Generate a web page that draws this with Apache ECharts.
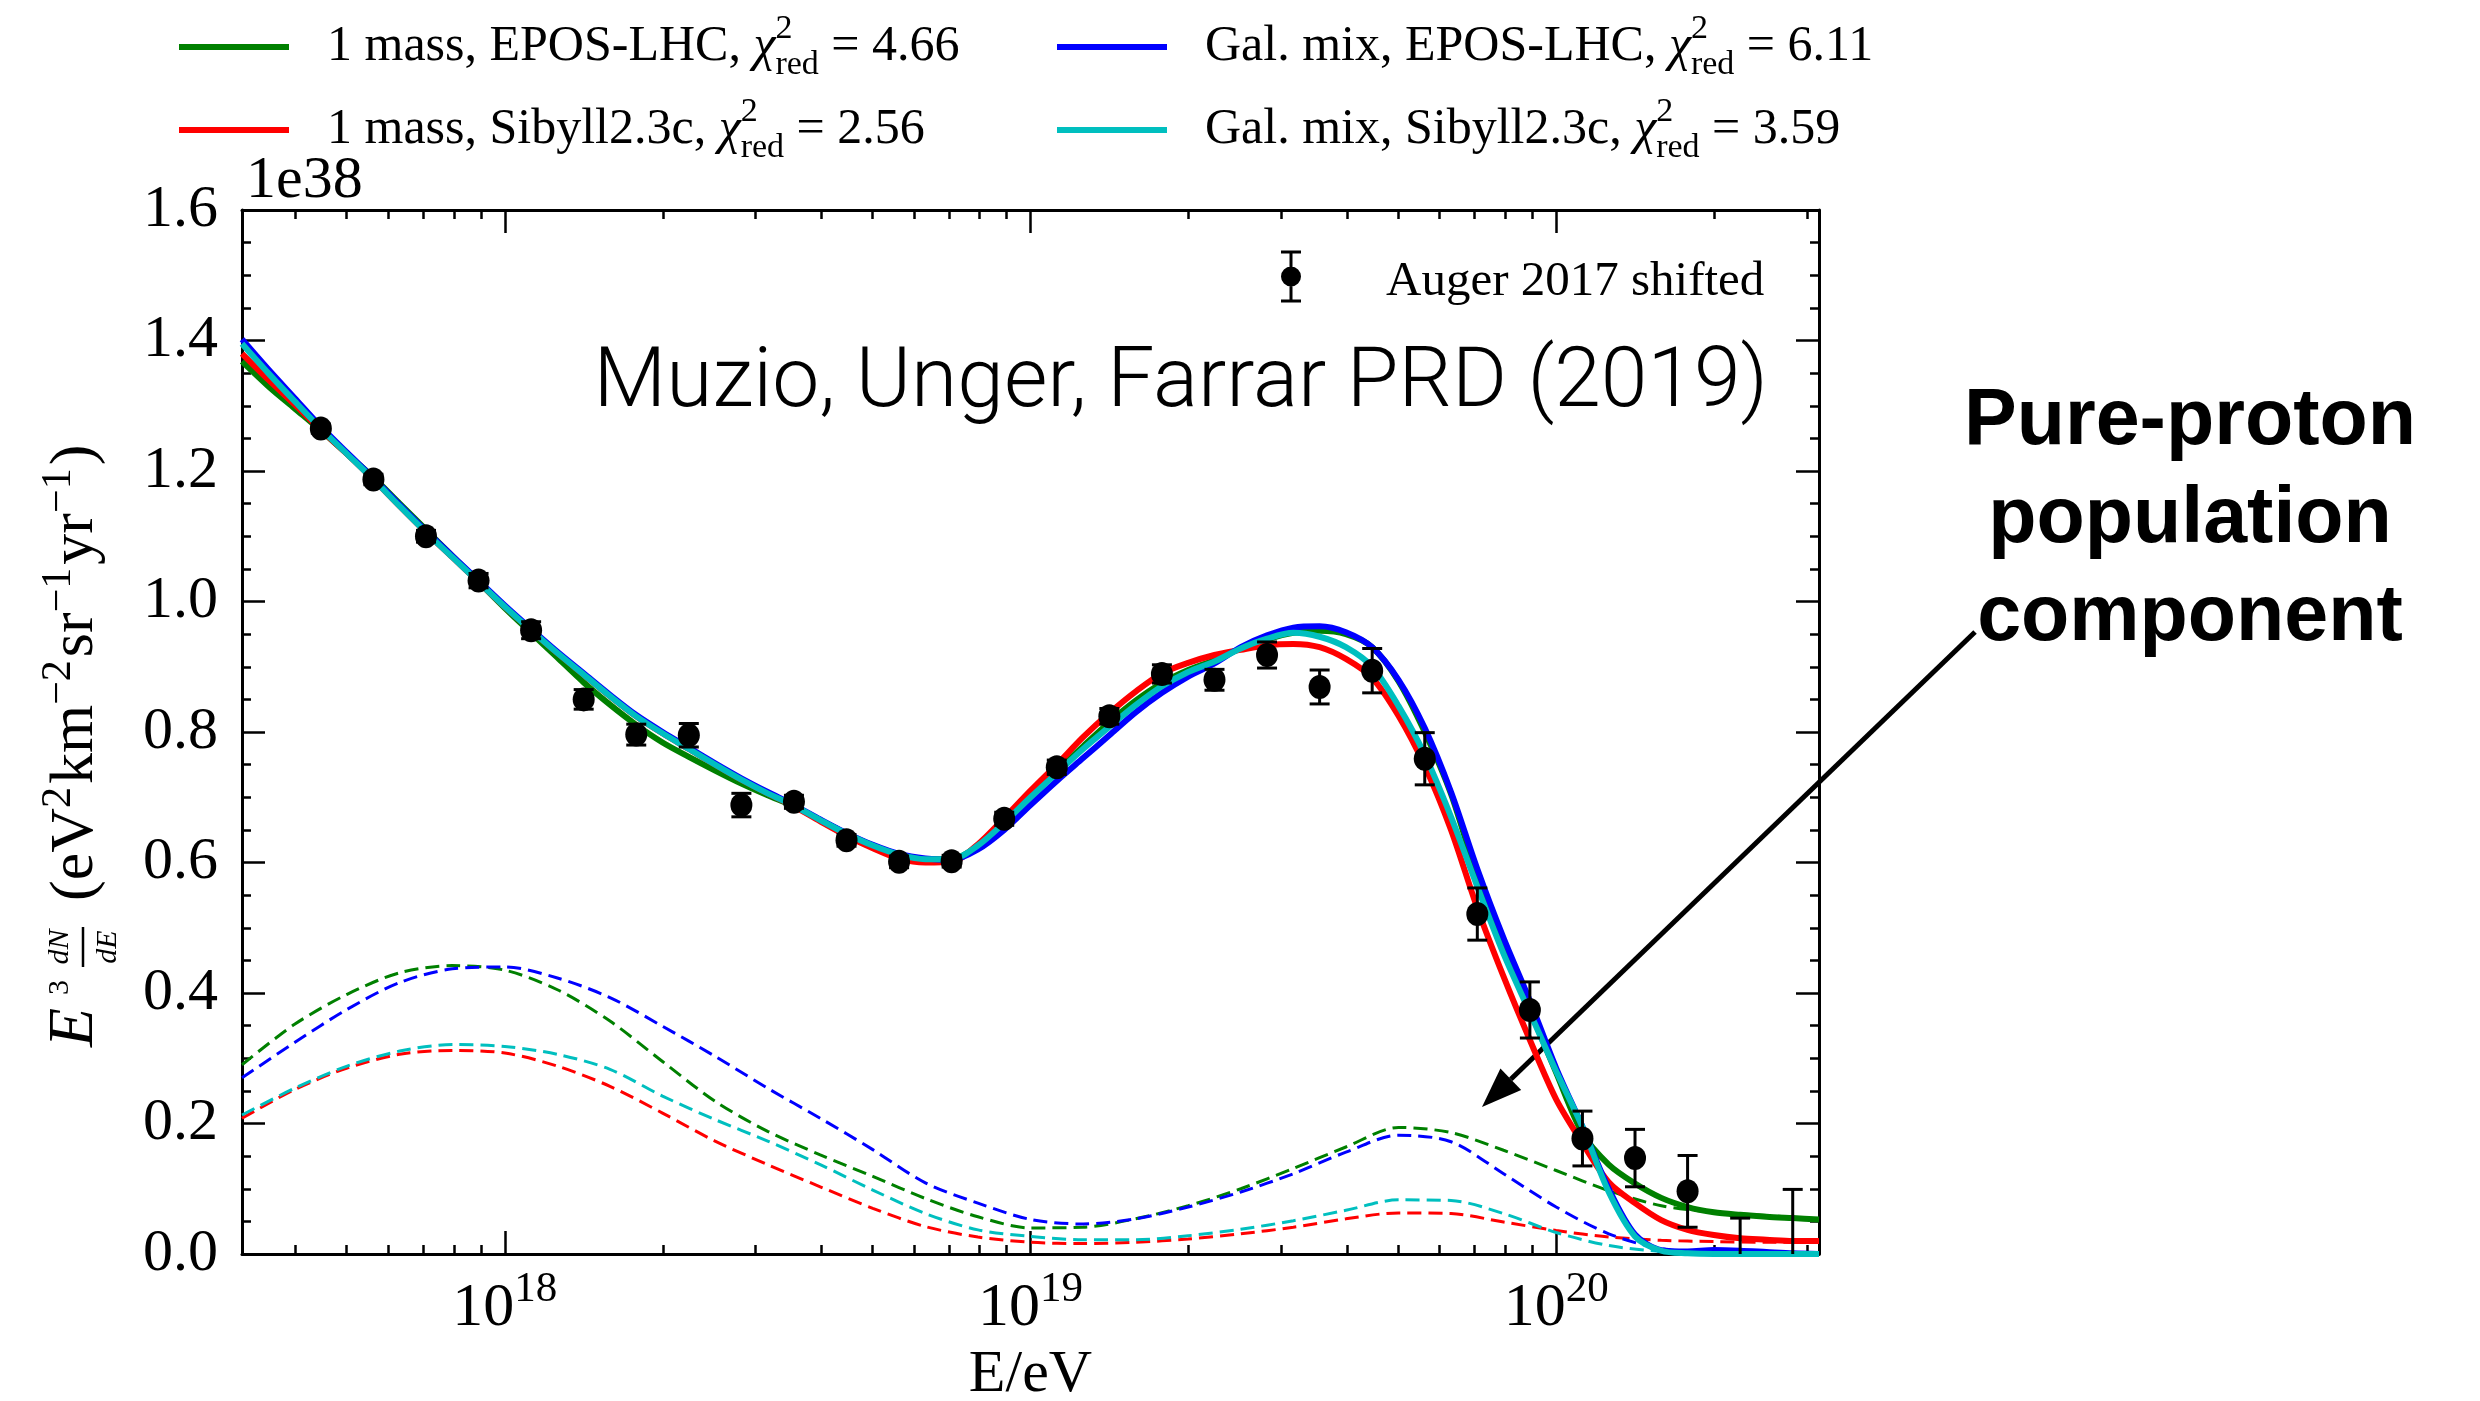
<!DOCTYPE html>
<html>
<head>
<meta charset="utf-8">
<title>UHECR spectrum fit</title>
<script src="https://cdn.jsdelivr.net/npm/echarts@6/dist/echarts.min.js"></script>
<style>
html,body{margin:0;padding:0;background:#ffffff;}
#chart{width:2480px;height:1401px;}
</style>
</head>
<body>
<div id="chart"></div>
<script>
// ---------- data: x = log10(E/eV), y = E^3 dN/dE in units of 1e38 eV^2 km^-2 sr^-1 yr^-1 ----------
const lgModel = [17.50,17.55,17.60,17.65,17.70,17.75,17.80,17.85,17.90,17.95,
                 18.00,18.05,18.10,18.15,18.20,18.25,18.30,18.35,18.40,18.45,
                 18.50,18.55,18.60,18.65,18.70,18.75,18.80,18.85,18.90,18.95,
                 19.00,19.05,19.10,19.15,19.20,19.25,19.30,19.35,19.40,19.45,
                 19.50,19.55,19.60,19.65,19.70,19.75,19.80,19.85,19.90,19.95,
                 20.00,20.05,20.10,20.15,20.20,20.25,20.30,20.35,20.40,20.45,
                 20.50];

const total_1mass_EPOS = [1.368,1.330,1.296,1.262,1.226,1.190,1.150,1.110,1.070,1.030,
                          0.990,0.952,0.914,0.876,0.842,0.811,0.784,0.762,0.741,0.721,
                          0.703,0.686,0.665,0.644,0.626,0.612,0.605,0.605,0.625,0.660,
                          0.700,0.740,0.778,0.815,0.848,0.875,0.895,0.910,0.928,0.942,
                          0.952,0.955,0.950,0.930,0.878,0.800,0.705,0.578,0.470,0.374,
                          0.278,0.185,0.137,0.108,0.086,0.072,0.064,0.060,0.057,0.055,
                          0.053];
const total_1mass_Sibyll = [1.380,1.340,1.302,1.263,1.226,1.187,1.146,1.106,1.068,1.030,
                            0.992,0.956,0.921,0.888,0.855,0.824,0.798,0.774,0.750,0.727,
                            0.706,0.686,0.663,0.641,0.622,0.606,0.600,0.601,0.628,0.668,
                            0.710,0.750,0.792,0.829,0.862,0.890,0.906,0.918,0.926,0.933,
                            0.935,0.930,0.912,0.883,0.825,0.748,0.650,0.530,0.425,0.328,
                            0.237,0.170,0.110,0.078,0.052,0.037,0.029,0.024,0.022,0.020,
                            0.020];
const total_galmix_EPOS = [1.402,1.356,1.312,1.268,1.228,1.189,1.148,1.108,1.070,1.032,
                           0.994,0.958,0.923,0.890,0.857,0.826,0.800,0.776,0.752,0.729,
                           0.708,0.688,0.666,0.645,0.627,0.613,0.606,0.604,0.620,0.650,
                           0.688,0.725,0.760,0.795,0.830,0.860,0.885,0.905,0.930,0.948,
                           0.960,0.962,0.953,0.930,0.880,0.806,0.708,0.590,0.484,0.388,
                           0.285,0.195,0.100,0.030,0.006,0.004,0.006,0.005,0.003,0.001,
                           0.000];
const total_galmix_Sibyll = [1.395,1.350,1.307,1.265,1.226,1.187,1.146,1.106,1.068,1.030,
                             0.992,0.956,0.921,0.888,0.855,0.824,0.798,0.774,0.750,0.727,
                             0.706,0.687,0.665,0.644,0.626,0.612,0.605,0.605,0.626,0.661,
                             0.700,0.737,0.774,0.808,0.841,0.870,0.892,0.908,0.928,0.943,
                             0.952,0.946,0.930,0.900,0.840,0.765,0.670,0.563,0.460,0.370,
                             0.280,0.195,0.095,0.027,0.005,0.001,0.000,0.000,0.000,0.000,
                             0.000];

const lgProton = [17.5,17.6,17.7,17.8,17.9,18.0,18.1,18.2,18.3,18.4,
                  18.5,18.6,18.7,18.8,18.9,19.0,19.1,19.2,19.3,19.4,
                  19.5,19.6,19.7,19.8,19.9,20.0,20.1,20.2,20.3,20.4,
                  20.5];
const proton_1mass_EPOS = [0.290,0.352,0.398,0.431,0.442,0.435,0.405,0.357,0.295,0.234,
                           0.188,0.152,0.119,0.085,0.057,0.040,0.041,0.054,0.074,0.100,
                           0.131,0.164,0.194,0.186,0.159,0.128,0.097,0.074,0.064,0.059,
                           0.054];
const proton_1mass_Sibyll = [0.208,0.252,0.285,0.306,0.312,0.308,0.288,0.257,0.216,0.173,
                             0.137,0.103,0.070,0.042,0.026,0.018,0.016,0.018,0.023,0.031,
                             0.041,0.054,0.063,0.062,0.049,0.036,0.026,0.021,0.019,0.018,
                             0.018];
const proton_galmix_EPOS = [0.270,0.324,0.375,0.416,0.437,0.440,0.423,0.393,0.349,0.303,
                            0.254,0.208,0.160,0.109,0.078,0.053,0.046,0.054,0.072,0.095,
                            0.123,0.156,0.182,0.172,0.123,0.072,0.031,0.008,0.002,0.000,
                            0.000];
const proton_galmix_Sibyll = [0.213,0.254,0.288,0.311,0.321,0.318,0.306,0.283,0.242,0.206,
                              0.173,0.137,0.098,0.062,0.037,0.027,0.022,0.022,0.028,0.038,
                              0.051,0.067,0.083,0.082,0.062,0.033,0.013,0.004,0.001,0.000,
                              0.000];

const lgAuger = [17.65,17.75,17.85,17.95,18.05,18.15,18.25,18.35,18.45,18.55,
                 18.65,18.75,18.85,18.95,19.05,19.15,19.25,19.35,19.45,19.55,
                 19.65,19.75,19.85,19.95,20.05,20.15,20.25];
const augerFlux = [1.265,1.187,1.100,1.032,0.956,0.850,0.796,0.795,0.688,0.693,
                   0.634,0.601,0.602,0.667,0.746,0.824,0.889,0.880,0.918,0.869,
                   0.894,0.759,0.521,0.374,0.177,0.147,0.096];
const augerErr = [0.007,0.008,0.009,0.011,0.013,0.015,0.016,0.018,0.018,0.010,
                  0.009,0.009,0.009,0.010,0.011,0.012,0.014,0.016,0.020,0.026,
                  0.034,0.040,0.040,0.043,0.042,0.044,0.055];
const lgAugerUpper = [20.35,20.45];
const augerUpperTop = [0.055,0.099];

const modelNames = ['1 mass, EPOS-LHC','1 mass, Sibyll2.3c','Gal. mix, EPOS-LHC','Gal. mix, Sibyll2.3c'];
const chi2red = ['4.66','2.56','6.11','3.59'];
const xMajorTicks = [18,19,20];
const yMin = 0, yMax = 1.6, yStep = 0.2;

// ---------- styling ----------
const SERIF = "'Liberation Serif','Times New Roman',Times,serif";
const SANS = "'Liberation Sans',Arial,Helvetica,sans-serif";
const modelColors = ['#008000','#ff0000','#0000ff','#00bfbf'];
const totals = [total_1mass_EPOS,total_1mass_Sibyll,total_galmix_EPOS,total_galmix_Sibyll];
const protons = [proton_1mass_EPOS,proton_1mass_Sibyll,proton_galmix_EPOS,proton_galmix_Sibyll];
const pair = (xs, ys) => xs.map((x, i) => [x, ys[i]]);

// minor ticks of a log axis: k*10^n
const xMinorTicks = [];
[17,18,19,20].forEach(n => { for (let k = 2; k <= 9; k++) { const v = n + Math.log10(k); if (v > 17.5 && v < 20.5) xMinorTicks.push(v); } });

const AX = {color:'#000', width:3};
const TK = {color:'#000', width:2.5};

function xAxisDef(position, ticks, len, showLine, labels) {
  const a = {
    type:'value', min:17.5, max:20.5, position: position, gridIndex:0,
    axisLine:{show:showLine, onZero:false, lineStyle:AX},
    axisTick:{show:true, inside:true, length:len, lineStyle:TK, customValues:ticks},
    axisLabel:{show:false},
    splitLine:{show:false}
  };
  if (labels) {
    a.axisLabel = {
      show:true, customValues: xMajorTicks, margin:14,
      formatter: v => '{b|10}{s|' + Math.round(v) + '}',
      rich:{
        b:{fontFamily:SERIF, fontSize:62, color:'#000', lineHeight:72, verticalAlign:'bottom'},
        s:{fontFamily:SERIF, fontSize:43, color:'#000', lineHeight:36, verticalAlign:'top'}
      }
    };
    a.name = 'E/eV';
    a.nameLocation = 'middle';
    a.nameGap = 88;
    a.nameTextStyle = {fontFamily:SERIF, fontSize:60, color:'#000', verticalAlign:'top'};
  }
  return a;
}
function yAxisDef(position, labels) {
  return {
    type:'value', min:yMin, max:yMax, interval:yStep, position:position, gridIndex:0,
    axisLine:{show:true, onZero:false, lineStyle:AX},
    axisTick:{show:true, inside:true, length:23, lineStyle:TK},
    minorTick:{show:true, splitNumber:4, length:9, lineStyle:TK},
    splitLine:{show:false}, minorSplitLine:{show:false},
    axisLabel: labels ? {show:true, formatter: v => v.toFixed(1), fontFamily:SERIF, fontSize:60, color:'#000', margin:24}
                      : {show:false}
  };
}

const series = [];
protons.forEach((arr, i) => series.push({
  type:'line', name: modelNames[i] + ' (pure-proton component)', data: pair(lgProton, arr),
  showSymbol:false, smooth:0.3, color: modelColors[i], silent:true, z:2,
  lineStyle:{color: modelColors[i], width:3, type:[14,7]}
}));
totals.forEach((arr, i) => series.push({
  type:'line', name: modelNames[i], data: pair(lgModel, arr),
  showSymbol:false, smooth:0.3, color: modelColors[i], silent:true, z:3 + i * 0.1,
  itemStyle:{color: modelColors[i]},
  lineStyle:{color: modelColors[i], width:6}
}));

function errRender(params, api) {
  const x = api.value(0), lo = api.value(1), hi = api.value(2);
  const pLo = api.coord([x, lo]), pHi = api.coord([x, hi]);
  const cw = 10, st = {stroke:'#000', lineWidth:3};
  return {type:'group', children:[
    {type:'line', shape:{x1:pLo[0], y1:pLo[1], x2:pHi[0], y2:pHi[1]}, style:st},
    {type:'line', shape:{x1:pLo[0]-cw, y1:pLo[1], x2:pLo[0]+cw, y2:pLo[1]}, style:st},
    {type:'line', shape:{x1:pHi[0]-cw, y1:pHi[1], x2:pHi[0]+cw, y2:pHi[1]}, style:st}
  ]};
}
series.push({
  type:'custom', name:'Auger 2017 shifted (errors)', renderItem: errRender, clip:true, z:5, silent:true,
  encode:{x:0, y:[1,2]},
  data: lgAuger.map((x, i) => [x, augerFlux[i] - augerErr[i], augerFlux[i] + augerErr[i]])
});
series.push({
  type:'custom', name:'Auger 2017 shifted (upper bars)', renderItem: errRender, clip:true, z:5, silent:true,
  encode:{x:0, y:[1,2]},
  data: lgAugerUpper.map((x, i) => [x, -0.05, augerUpperTop[i]])
});
series.push({
  type:'scatter', name:'Auger 2017 shifted', data: pair(lgAuger, augerFlux),
  symbol:'circle', symbolSize:[22,24], color:'#000', itemStyle:{color:'#000', opacity:1}, z:6, silent:true, clip:true
});

const legendRich = {
  t0:{fontFamily:SERIF, fontSize:50, color:'#000', lineHeight:70, padding:[0,0,0,33]},
  t:{fontFamily:SERIF, fontSize:50, color:'#000', lineHeight:70},
  chi:{fontFamily:SERIF, fontStyle:'italic', fontSize:50, color:'#000', lineHeight:70},
  sup:{fontFamily:SERIF, fontSize:34, color:'#000', lineHeight:44, verticalAlign:'top', width:0},
  sub:{fontFamily:SERIF, fontSize:34, color:'#000', lineHeight:44, verticalAlign:'bottom'}
};
const legendPos = [[179,12],[179,95],[1057,12],[1057,95]];
const legends = modelNames.map((name, i) => ({
  show:true, selectedMode:false, padding:0, left:legendPos[i][0], top:legendPos[i][1], orient:'horizontal',
  itemWidth:110, itemHeight:6, itemStyle:{borderWidth:0},
  data:[{name:name, icon:'rect'}],
  formatter: n => '{t0|' + n + ', }{chi|χ}{sup|2}{sub|red}{t| = ' + chi2red[i] + '}',
  textStyle:{rich: legendRich}
}));
legends.push({
  show:true, selectedMode:false, padding:0, left:1281, top:246,
  itemWidth:26, itemHeight:52, itemStyle:{borderWidth:0},
  data:[{name:'Auger 2017 shifted',
         icon:'path://M3 0H23V3H3Z M11.5 0H14.5V52H11.5Z M3 49H23V52H3Z M3 26A10 10 0 1 1 23 26A10 10 0 1 1 3 26Z'}],
  formatter: n => '{a|' + n + '}',
  textStyle:{rich:{a:{fontFamily:SERIF, fontSize:49, color:'#000', lineHeight:60, padding:[12,0,0,77]}}}
});

const yLabel = {
  type:'group', x:97, y:1047, rotation: Math.PI / 2, silent:true,
  children:[
    {type:'text', x:0, y:-22, style:{text:'E', fontFamily:SERIF, fontStyle:'italic', fontSize:64, fill:'#000', align:'left', verticalAlign:'middle'}},
    {type:'text', x:52, y:-37, style:{text:'3', fontFamily:SERIF, fontSize:30, fill:'#000', align:'left', verticalAlign:'middle'}},
    {type:'text', x:100, y:-37, style:{text:'dN', fontFamily:SERIF, fontStyle:'italic', fontSize:30, fill:'#000', align:'center', verticalAlign:'middle'}},
    {type:'line', shape:{x1:80, y1:-14, x2:120, y2:-14}, style:{stroke:'#000', lineWidth:2.5}},
    {type:'text', x:100, y:11, style:{text:'dE', fontFamily:SERIF, fontStyle:'italic', fontSize:30, fill:'#000', align:'center', verticalAlign:'middle'}},
    {type:'text', x:146, y:-21, style:{
      text:'{p|(eV}{s|2}{p|km}{s|\u22122}{p|sr}{s|\u22121}{p|yr}{s|\u22121}{p|)}',
      align:'left', verticalAlign:'middle',
      rich:{
        p:{fontFamily:SERIF, fontSize:62, color:'#000', lineHeight:76},
        s:{fontFamily:SERIF, fontSize:42, color:'#000', lineHeight:36, verticalAlign:'top', padding:[0,3,0,0]}
      }}}
  ]
};

// arrow geometry (annotation)
const arrowTail = [1975, 632], arrowTip = [1482, 1107];
const adx = arrowTip[0] - arrowTail[0], ady = arrowTip[1] - arrowTail[1];
const alen = Math.hypot(adx, ady), ux = adx / alen, uy = ady / alen;
const headL = 40, headW = 15;
const baseC = [arrowTip[0] - ux * headL, arrowTip[1] - uy * headL];

const option = {
  animation:false,
  backgroundColor:'#ffffff',
  grid:{left:242, top:210, right:661, bottom:147, containLabel:false, outerBoundsMode:'none', show:false},
  legend: legends,
  xAxis:[
    xAxisDef('bottom', xMajorTicks, 23, true, true),
    xAxisDef('bottom', xMinorTicks, 9, false, false),
    xAxisDef('top', xMajorTicks, 23, true, false),
    xAxisDef('top', xMinorTicks, 9, false, false)
  ],
  yAxis:[ yAxisDef('left', true), yAxisDef('right', false) ],
  series: series,
  graphic:[
    {type:'text', x:246, y:181, silent:true, style:{text:'1e38', fontFamily:SERIF, fontSize:60, fill:'#000', align:'left', verticalAlign:'middle'}},
    {type:'text', x:1768, y:385, silent:true, style:{text:'Muzio, Unger, Farrar PRD (2019)', fontFamily:"Roboto,'Liberation Sans',sans-serif", fontWeight:300, fontSize:84, fill:'#000', align:'right', verticalAlign:'middle'}},
    {type:'text', x:2190, y:520, silent:true, style:{text:'Pure-proton\npopulation\ncomponent', fontFamily:SANS, fontWeight:'bold', fontSize:79, lineHeight:98, fill:'#000', align:'center', verticalAlign:'middle'}},
    {type:'line', silent:true, shape:{x1:arrowTail[0], y1:arrowTail[1], x2:baseC[0], y2:baseC[1]}, style:{stroke:'#000', lineWidth:5}},
    {type:'polygon', silent:true, shape:{points:[arrowTip, [baseC[0] - uy * headW, baseC[1] + ux * headW], [baseC[0] + uy * headW, baseC[1] - ux * headW]]}, style:{fill:'#000'}},
    yLabel
  ]
};

const chart = echarts.init(document.getElementById('chart'), null, {renderer:'canvas'});
chart.setOption(option);
</script>
</body>
</html>
